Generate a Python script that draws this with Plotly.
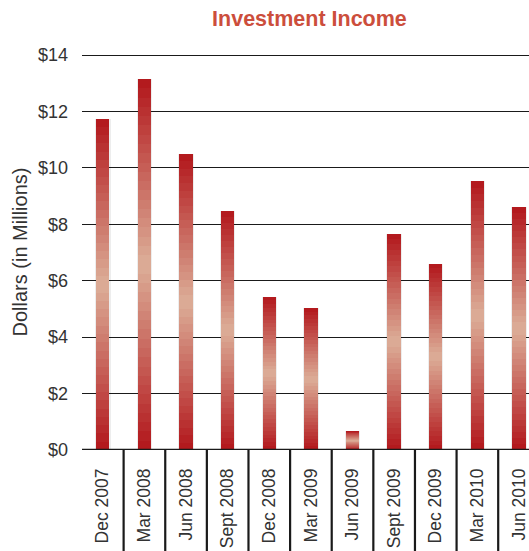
import plotly.graph_objects as go

categories = ["Dec 2007", "Mar 2008", "Jun 2008", "Sept 2008", "Dec 2008", "Mar 2009",
              "Jun 2009", "Sept 2009", "Dec 2009", "Mar 2010", "Jun 2010"]
income = [11.75, 13.15, 10.5, 8.48, 5.44, 5.02, 0.67, 7.67, 6.61, 9.54, 8.62]
y_ticks = [0, 2, 4, 6, 8, 10, 12, 14]
y_tick_labels = ["$" + str(t) for t in y_ticks]

DARK = (178, 22, 27)
LIGHT = (220, 174, 152)
N = 40

def mix(t):
    return "rgb(%d,%d,%d)" % tuple(round(LIGHT[i] + (DARK[i] - LIGHT[i]) * t) for i in range(3))

x_idx = list(range(len(categories)))
fig = go.Figure()

# soft shadow
fig.add_trace(go.Bar(x=x_idx, y=income, width=0.37, marker=dict(color="rgba(0,0,0,0.07)", line=dict(width=0)),
                     hoverinfo="skip", showlegend=False))

for k in range(N):
    frac = (N - k) / N
    centre = (k + 0.5) / N  # position from top (0) to bottom (1)
    t = abs(centre - 0.5) * 2
    fig.add_trace(go.Bar(
        x=x_idx, y=[v * frac for v in income], width=0.32,
        marker=dict(color=mix(t), line=dict(width=0)),
        hoverinfo="skip", showlegend=False))

shapes = []
for i in range(len(categories) - 1):
    shapes.append(dict(type="line", xref="x", yref="paper", x0=i + 0.5, x1=i + 0.5,
                       y0=0, y1=-1, line=dict(color="#1a1a1a", width=2.2)))
shapes.append(dict(type="line", xref="paper", yref="y", x0=0, x1=1, y0=0, y1=0,
                   line=dict(color="#1a1a1a", width=2.5)))

fig.update_layout(
    width=529, height=551,
    margin=dict(l=82, r=0, t=54, b=101),
    paper_bgcolor="white", plot_bgcolor="white",
    barmode="overlay",
    bargap=0,
    font=dict(family="Liberation Sans, Arial, sans-serif", color="#333333"),
    title=dict(text="<b>Investment Income</b>", x=0.585, xanchor="center", y=0.966, yanchor="middle",
               font=dict(size=21.5, color="#cc4e3c")),
    shapes=shapes,
    xaxis=dict(
        tickmode="array", tickvals=x_idx, ticktext=categories, tickangle=-90,
        range=[-0.5, 10.24], showgrid=False, zeroline=False, showline=False, automargin=False,
        tickfont=dict(size=17.5, color="#333333"), ticks="", ticklabelstandoff=14,
    ),
    yaxis=dict(
        tickmode="array", tickvals=y_ticks, ticktext=y_tick_labels, range=[0, 14.04],
        showgrid=True, gridcolor="#1a1a1a", gridwidth=1.3, zeroline=False, showline=False, automargin=False,
        tickfont=dict(size=18, color="#333333"), ticks="", ticklabelstandoff=13,
        title=dict(text="Dollars (in Millions)", font=dict(size=20, color="#333333"), standoff=4),
    ),
)

fig.write_html("out.html", config={"displayModeBar": False},
               post_script="document.body.style.margin='0';document.body.style.overflow='hidden';")
